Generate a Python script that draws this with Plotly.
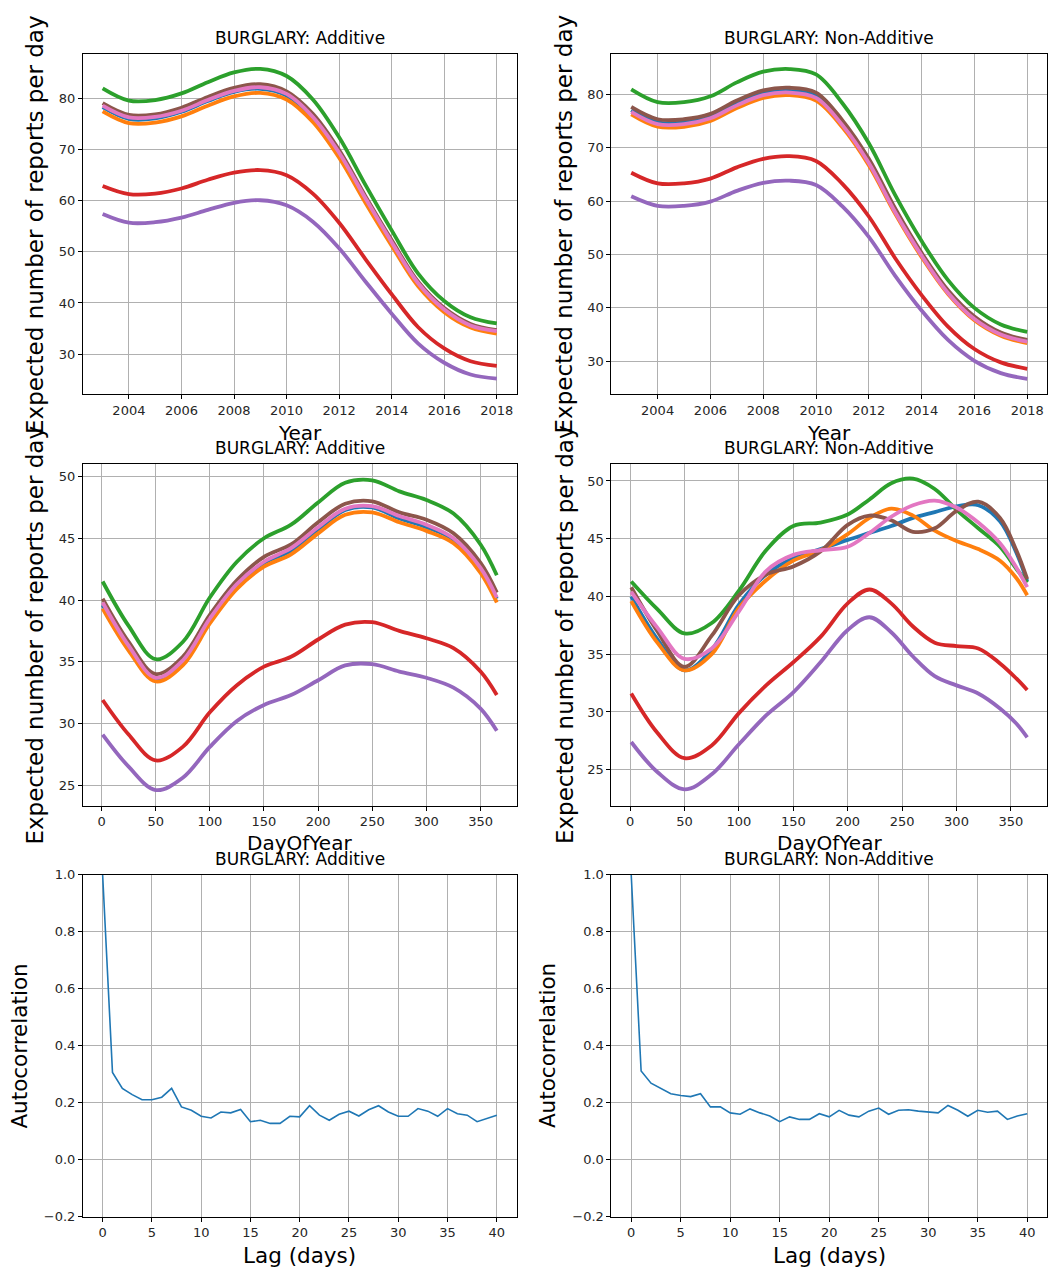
import plotly.graph_objects as go

# ---------------- data ----------------
years = [2003, 2004, 2005, 2006, 2007, 2008, 2009, 2010, 2011, 2012, 2013, 2014, 2015, 2016, 2017, 2018]

yr_add_blue   = [78.3, 76.0, 76.1, 77.4, 79.5, 81.3, 81.9, 80.6, 76.2, 69.1, 60.3, 51.8, 43.7, 38.6, 35.5, 34.4]
yr_add_orange = [77.5, 75.2, 75.3, 76.5, 78.6, 80.4, 81.1, 79.8, 75.4, 68.4, 59.6, 51.2, 43.3, 38.2, 35.2, 34.0]
yr_add_green  = [82.0, 79.6, 79.7, 81.0, 83.2, 85.1, 85.8, 84.4, 79.8, 72.4, 63.1, 54.2, 45.8, 40.4, 37.2, 36.0]
yr_add_red    = [62.9, 61.3, 61.4, 62.4, 64.1, 65.5, 66.0, 65.0, 61.4, 55.7, 48.6, 41.7, 35.3, 31.1, 28.6, 27.7]
yr_add_purple = [57.4, 55.7, 55.8, 56.7, 58.2, 59.6, 60.1, 59.1, 55.9, 50.7, 44.2, 37.9, 32.1, 28.3, 26.0, 25.2]
yr_add_brown  = [79.1, 76.8, 76.9, 78.2, 80.3, 82.1, 82.8, 81.4, 77.0, 69.9, 60.9, 52.3, 44.2, 39.0, 35.9, 34.7]
yr_add_pink   = [78.6, 76.3, 76.4, 77.6, 79.7, 81.5, 82.2, 80.9, 76.4, 69.4, 60.5, 51.9, 43.9, 38.7, 35.6, 34.5]

yr_non_blue   = [77.0, 74.7, 74.7, 75.8, 78.3, 80.2, 80.6, 79.7, 74.5, 67.4, 58.2, 50.0, 43.0, 38.1, 35.1, 33.8]
yr_non_orange = [76.2, 73.9, 73.9, 75.0, 77.4, 79.3, 79.8, 78.8, 73.8, 66.7, 57.6, 49.5, 42.6, 37.7, 34.8, 33.4]
yr_non_green  = [80.9, 78.5, 78.5, 79.6, 82.2, 84.2, 84.7, 83.7, 78.3, 70.8, 61.1, 52.5, 45.2, 40.0, 36.9, 35.5]
yr_non_red    = [65.3, 63.3, 63.3, 64.2, 66.3, 67.9, 68.4, 67.5, 63.2, 57.1, 49.3, 42.4, 36.5, 32.3, 29.8, 28.6]
yr_non_purple = [60.9, 59.1, 59.1, 59.9, 61.9, 63.4, 63.8, 63.0, 59.0, 53.3, 46.0, 39.5, 34.0, 30.1, 27.8, 26.7]
yr_non_brown  = [77.6, 75.3, 75.3, 76.3, 78.8, 80.7, 81.2, 80.3, 75.1, 67.9, 58.6, 50.3, 43.3, 38.4, 35.4, 34.0]
yr_non_pink   = [76.7, 74.4, 74.4, 75.5, 77.9, 79.8, 80.3, 79.3, 74.2, 67.1, 57.9, 49.8, 42.8, 37.9, 35.0, 33.7]

days_add = [1, 25, 50, 75, 100, 125, 150, 175, 200, 225, 250, 275, 300, 325, 350, 365]
dy_add_blue   = [39.6, 36.2, 33.6, 35.0, 38.4, 41.2, 43.0, 44.0, 45.7, 47.3, 47.5, 46.6, 45.9, 44.9, 42.5, 40.1]
dy_add_orange = [39.3, 35.9, 33.4, 34.7, 38.1, 40.9, 42.7, 43.7, 45.4, 46.9, 47.1, 46.3, 45.6, 44.6, 42.2, 39.8]
dy_add_green  = [41.5, 37.9, 35.2, 36.6, 40.2, 43.1, 45.0, 46.1, 47.9, 49.5, 49.7, 48.8, 48.1, 47.0, 44.5, 42.0]
dy_add_red    = [31.9, 29.1, 27.0, 28.1, 30.9, 33.1, 34.6, 35.4, 36.8, 38.0, 38.2, 37.5, 36.9, 36.1, 34.2, 32.3]
dy_add_purple = [29.1, 26.5, 24.6, 25.6, 28.1, 30.2, 31.5, 32.3, 33.5, 34.7, 34.8, 34.2, 33.7, 32.9, 31.2, 29.4]
dy_add_brown  = [40.1, 36.6, 34.0, 35.4, 38.8, 41.6, 43.5, 44.5, 46.3, 47.8, 48.0, 47.1, 46.5, 45.4, 43.0, 40.6]
dy_add_pink   = [39.8, 36.3, 33.7, 35.1, 38.5, 41.3, 43.1, 44.2, 45.9, 47.4, 47.6, 46.8, 46.1, 45.0, 42.6, 40.2]

days_non = [1, 25, 50, 75, 100, 125, 150, 175, 200, 220, 240, 260, 280, 300, 320, 340, 355, 365]
dy_non_blue   = [40.0, 36.3, 33.6, 35.4, 39.3, 41.9, 43.3, 44.1, 44.9, 45.5, 46.1, 46.8, 47.3, 47.8, 47.9, 46.5, 43.8, 41.3]
dy_non_orange = [39.6, 36.0, 33.6, 35.0, 39.0, 41.4, 43.1, 44.0, 45.4, 46.8, 47.6, 47.0, 45.7, 44.8, 44.1, 43.1, 41.6, 40.1]
dy_non_green  = [41.3, 38.9, 36.8, 37.7, 40.5, 44.0, 46.1, 46.4, 47.1, 48.4, 49.8, 50.2, 49.3, 47.5, 45.9, 44.3, 42.4, 41.2]
dy_non_red    = [31.6, 28.2, 26.0, 27.1, 29.9, 32.3, 34.3, 36.5, 39.4, 40.6, 39.4, 37.4, 36.0, 35.7, 35.5, 34.2, 32.9, 31.9]
dy_non_purple = [27.4, 24.8, 23.3, 24.6, 27.2, 29.7, 31.7, 34.3, 37.1, 38.2, 36.9, 34.8, 33.1, 32.3, 31.6, 30.3, 29.0, 27.8]
dy_non_brown  = [40.8, 37.0, 33.9, 36.6, 40.1, 41.9, 42.6, 43.9, 46.2, 47.0, 46.6, 45.6, 45.9, 47.4, 48.2, 46.8, 44.0, 41.5]
dy_non_pink   = [40.4, 37.3, 34.6, 35.5, 38.7, 42.2, 43.6, 44.0, 44.3, 45.5, 46.9, 47.9, 48.3, 47.7, 46.4, 44.6, 42.5, 40.8]

lags = list(range(41))
acf_add = [1.0, 0.306, 0.250, 0.228, 0.210, 0.210, 0.219, 0.250, 0.185, 0.173, 0.152,
           0.146, 0.167, 0.164, 0.176, 0.133, 0.138, 0.127, 0.127, 0.152, 0.150,
           0.189, 0.156, 0.138, 0.159, 0.170, 0.153, 0.175, 0.189, 0.167, 0.152,
           0.152, 0.179, 0.170, 0.152, 0.179, 0.161, 0.156, 0.133, 0.144, 0.156]
acf_non = [1.0, 0.311, 0.268, 0.250, 0.231, 0.225, 0.221, 0.231, 0.185, 0.185, 0.164,
           0.159, 0.178, 0.164, 0.153, 0.133, 0.150, 0.141, 0.141, 0.161, 0.150,
           0.173, 0.156, 0.150, 0.170, 0.181, 0.159, 0.173, 0.175, 0.170, 0.166,
           0.164, 0.190, 0.173, 0.152, 0.173, 0.166, 0.170, 0.141, 0.153, 0.161]

titles = ["BURGLARY: Additive", "BURGLARY: Non-Additive"]
year_ticks = [2004, 2006, 2008, 2010, 2012, 2014, 2016, 2018]

# ---------------- styling ----------------
COLORS = ["#1f77b4", "#ff7f0e", "#2ca02c", "#d62728", "#9467bd", "#8c564b", "#e377c2"]
FONT = "DejaVu Sans"
PAGE_MARGIN = 8            # default body margin of the html page
W, H = 1056 - 2 * PAGE_MARGIN, 1281 - 2 * PAGE_MARGIN


def px_x(p):
    return min(max((p - PAGE_MARGIN) / W, 0), 1)


def px_y(p):
    return min(max(1 - (p - PAGE_MARGIN) / H, 0), 1)


cols = [(83, 517), (612, 1048)]
rows = [(47, 392), (462, 808), (878, 1224)]

fig = go.Figure()


def add_lines(idx, xs, series, width):
    ax = "" if idx == 1 else str(idx)
    for c, ys in zip(COLORS, series):
        fig.add_trace(go.Scatter(x=xs, y=ys, mode="lines",
                                 line=dict(color=c, width=width, shape="spline", smoothing=1.0),
                                 xaxis="x" + ax, yaxis="y" + ax, showlegend=False,
                                 hoverinfo="skip"))


add_lines(1, years, [yr_add_blue, yr_add_orange, yr_add_green, yr_add_red, yr_add_purple, yr_add_brown, yr_add_pink], 3.8)
add_lines(2, years, [yr_non_blue, yr_non_orange, yr_non_green, yr_non_red, yr_non_purple, yr_non_brown, yr_non_pink], 3.8)
add_lines(3, days_add, [dy_add_blue, dy_add_orange, dy_add_green, dy_add_red, dy_add_purple, dy_add_brown, dy_add_pink], 3.8)
add_lines(4, days_non, [dy_non_blue, dy_non_orange, dy_non_green, dy_non_red, dy_non_purple, dy_non_brown, dy_non_pink], 3.8)

for idx, acf in [(5, acf_add), (6, acf_non)]:
    fig.add_trace(go.Scatter(x=lags, y=acf, mode="lines",
                             line=dict(color=COLORS[0], width=1.6),
                             xaxis="x" + str(idx), yaxis="y" + str(idx),
                             showlegend=False, hoverinfo="skip"))

base_axis = dict(showline=True, linecolor="#000000", linewidth=1, mirror=True,
                 showgrid=True, gridcolor="#b0b0b0", gridwidth=1, zeroline=False,
                 ticks="outside", ticklen=4, tickwidth=1, tickcolor="#000000",
                 tickfont=dict(family=FONT, size=13, color="#262626"))

layout = dict(width=W, height=H, margin=dict(l=0, r=0, t=0, b=0),
              paper_bgcolor="white", plot_bgcolor="white", showlegend=False,
              font=dict(family=FONT))

x_specs = [
    dict(range=[2002.25, 2018.75], tickvals=year_ticks),
    dict(range=[2002.25, 2018.75], tickvals=year_ticks),
    dict(range=[-17.2, 383.2], tickvals=[0, 50, 100, 150, 200, 250, 300, 350]),
    dict(range=[-17.2, 383.2], tickvals=[0, 50, 100, 150, 200, 250, 300, 350]),
    dict(range=[-2, 42], tickvals=[0, 5, 10, 15, 20, 25, 30, 35, 40]),
    dict(range=[-2, 42], tickvals=[0, 5, 10, 15, 20, 25, 30, 35, 40]),
]
y_specs = [
    dict(range=[22.1, 88.8], tickvals=[30, 40, 50, 60, 70, 80]),
    dict(range=[23.8, 87.6], tickvals=[30, 40, 50, 60, 70, 80]),
    dict(range=[23.35, 51.05], tickvals=[25, 30, 35, 40, 45, 50]),
    dict(range=[21.9, 51.5], tickvals=[25, 30, 35, 40, 45, 50]),
    dict(range=[-0.2, 1.0], tickvals=[-0.2, 0.0, 0.2, 0.4, 0.6, 0.8, 1.0], tickformat=".1f"),
    dict(range=[-0.2, 1.0], tickvals=[-0.2, 0.0, 0.2, 0.4, 0.6, 0.8, 1.0], tickformat=".1f"),
]

for i in range(6):
    r, c = divmod(i, 2)
    idx = i + 1
    ax = "" if idx == 1 else str(idx)
    xd = [px_x(cols[c][0]), px_x(cols[c][1])]
    yd = [px_y(rows[r][1]), px_y(rows[r][0])]
    xa = dict(base_axis, domain=xd, anchor="y" + ax, **x_specs[i])
    ya = dict(base_axis, domain=yd, anchor="x" + ax, **y_specs[i])
    layout["xaxis" + ax] = xa
    layout["yaxis" + ax] = ya

annotations = []
title_y = [31, 446, 862]
xlabel_y = [431, 846, 1263]
xlabels = ["Year", "DayOfYear", "Lag (days)"]
ylabels = ["Expected number of reports per day", "Expected number of reports per day", "Autocorrelation"]
ylabel_x = [[35, 565], [35, 565], [20, 548]]
ylabel_size = [23, 23, 21.5]
xlabel_size = [20, 20, 21.5]

for r in range(3):
    for c in range(2):
        cx = (cols[c][0] + cols[c][1]) / 2
        cy = (rows[r][0] + rows[r][1]) / 2
        annotations.append(dict(text=titles[c], x=px_x(cx), y=px_y(title_y[r]),
                                xref="paper", yref="paper", showarrow=False,
                                xanchor="center", yanchor="middle",
                                font=dict(family=FONT, size=17, color="#000000")))
        annotations.append(dict(text=xlabels[r], x=px_x(cx), y=px_y(xlabel_y[r]),
                                xref="paper", yref="paper", showarrow=False,
                                xanchor="center", yanchor="middle",
                                font=dict(family=FONT, size=xlabel_size[r], color="#000000")))
        annotations.append(dict(text=ylabels[r], x=px_x(ylabel_x[r][c]), y=px_y(cy),
                                xref="paper", yref="paper", showarrow=False, textangle=-90,
                                xanchor="center", yanchor="middle",
                                font=dict(family=FONT, size=ylabel_size[r], color="#000000")))

layout["annotations"] = annotations
fig.update_layout(**layout)
fig.write_html("out.html")
